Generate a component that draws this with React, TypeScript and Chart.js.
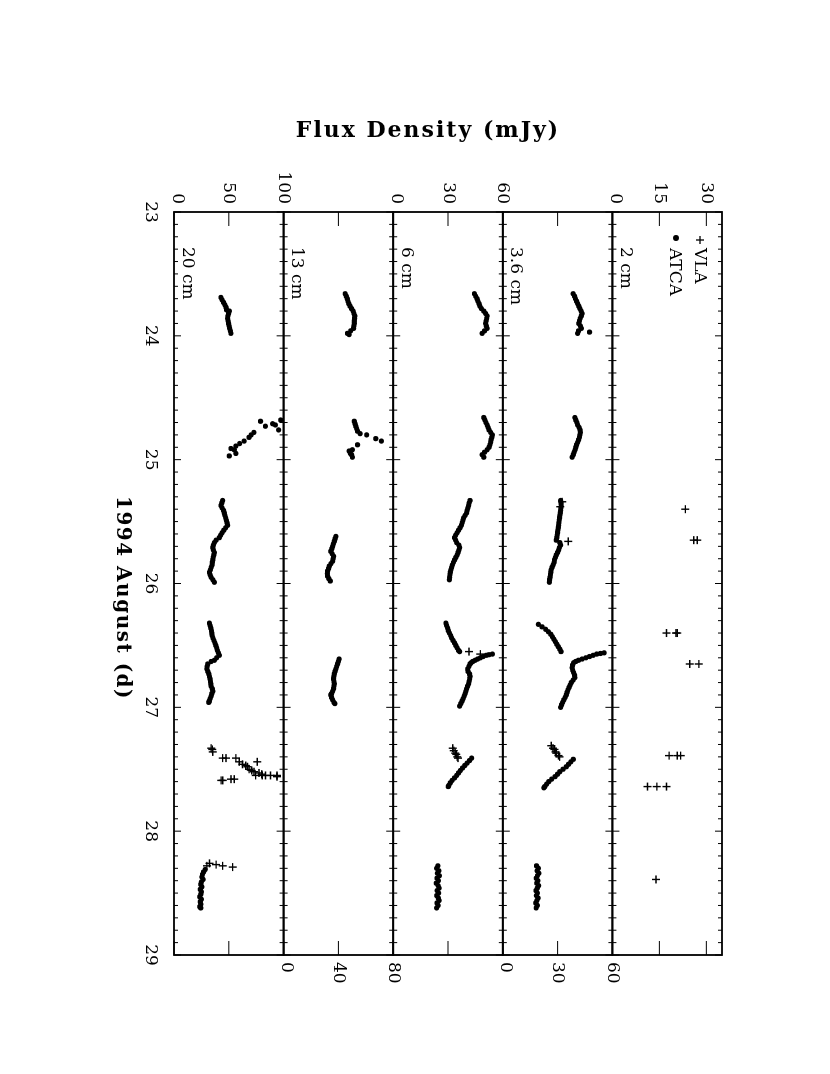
import React, { useEffect, useRef } from "react";
import { Chart, registerables } from "chart.js";

Chart.register(...registerables);

type P = [number, number];

// ---- axes / labels ----
const bandNames = ["2 cm", "3.6 cm", "6 cm", "13 cm", "20 cm"];
const bandMax = [35, 60, 60, 80, 100];
const bandTicks = [
  [0, 15, 30],
  [0, 30, 60],
  [0, 30, 60],
  [0, 40, 80],
  [0, 50, 100],
];
const bandLabelSide = ["left", "right", "left", "right", "left"];
const dayTicks = [23, 24, 25, 26, 27, 28, 29];
const dayMin = 23;
const dayMax = 29;
const yTitle = "Flux Density (mJy)";
const xTitle = "1994 August (d)";

// ---- data: [day, flux mJy] ----
const vla2: P[] = [
  [25.4, 23.3], [25.65, 26.0], [25.65, 27.1], [26.4, 17.3], [26.4, 20.3], [26.4, 20.7],
  [26.65, 24.7], [26.65, 27.6], [27.39, 18.1], [27.39, 20.7], [27.39, 21.8],
  [27.64, 11.2], [27.64, 14.2], [27.64, 17.3], [28.39, 13.9],
];

const atca36: P[] = [
  [23.66, 38.5], [23.68, 39.3], [23.7, 39.8], [23.72, 40.4], [23.74, 41.0], [23.76, 41.6], [23.78, 42.2],
  [23.8, 42.9], [23.82, 43.4], [23.84, 43.0], [23.86, 42.4], [23.88, 42.0], [23.9, 41.6], [23.92, 42.5],
  [23.94, 43.0], [23.96, 41.5], [23.98, 41.0], [23.97, 47.5],
  [24.66, 39.5], [24.68, 40.0], [24.7, 40.6], [24.72, 41.0], [24.74, 41.8], [24.76, 42.3], [24.78, 42.5],
  [24.8, 42.2], [24.82, 42.0], [24.84, 41.5], [24.86, 41.0], [24.88, 40.4], [24.9, 40.0], [24.92, 39.6],
  [24.94, 39.1], [24.96, 38.6], [24.98, 38.0],
  [25.33, 31.7], [25.35, 31.9], [25.37, 32.0], [25.39, 31.8], [25.41, 31.7], [25.43, 31.5], [25.45, 31.3],
  [25.47, 31.1], [25.49, 30.9], [25.51, 30.7], [25.53, 30.6], [25.55, 30.4], [25.57, 30.2], [25.59, 30.0],
  [25.61, 29.8], [25.63, 29.6], [25.65, 29.3], [25.67, 31.2], [25.69, 31.7], [25.71, 31.0], [25.73, 30.6],
  [25.75, 30.0], [25.77, 29.3], [25.79, 28.8], [25.81, 28.3], [25.83, 28.1], [25.85, 27.6], [25.87, 27.0],
  [25.89, 26.5], [25.91, 26.3], [25.93, 26.1], [25.95, 25.9], [25.97, 25.6], [25.99, 25.5],
  [26.33, 19.5], [26.35, 21.5], [26.37, 23.5], [26.39, 25.0], [26.41, 26.3], [26.43, 27.2], [26.45, 28.0],
  [26.47, 28.8], [26.49, 29.6], [26.51, 30.4], [26.53, 31.2], [26.55, 31.9],
  [26.56, 55.5], [26.565, 53.5], [26.57, 51.5], [26.58, 49.5], [26.59, 47.5], [26.6, 45.5], [26.61, 43.5],
  [26.62, 41.5], [26.63, 40.0], [26.64, 38.8], [26.66, 38.2], [26.68, 38.0], [26.7, 38.3], [26.72, 38.8],
  [26.74, 39.3], [26.76, 39.5], [26.78, 38.5], [26.8, 37.5], [26.82, 36.9], [26.84, 36.3], [26.86, 35.7],
  [26.88, 35.2], [26.9, 34.8], [26.92, 34.2], [26.94, 33.4], [26.96, 32.8], [26.98, 32.2], [27.0, 31.7],
  [27.42, 38.6], [27.44, 37.3], [27.46, 36.0], [27.48, 34.8], [27.5, 33.0], [27.52, 31.2], [27.54, 30.0],
  [27.56, 28.6], [27.58, 26.8], [27.6, 25.2], [27.62, 24.0], [27.64, 23.0], [27.65, 22.5],
  [28.28, 18.5], [28.3, 19.5], [28.32, 18.8], [28.34, 19.8], [28.36, 19.0], [28.38, 18.3], [28.4, 19.2],
  [28.42, 18.6], [28.44, 19.6], [28.46, 18.9], [28.48, 18.2], [28.5, 19.0], [28.52, 18.4], [28.54, 19.3],
  [28.56, 18.7], [28.58, 18.1], [28.6, 18.9], [28.62, 18.3],
];
const vla36: P[] = [
  [25.34, 32.5], [25.38, 31.5], [25.66, 35.8],
  [27.31, 26.5], [27.33, 27.5], [27.34, 28.3], [27.36, 28.8], [27.37, 29.3], [27.39, 30.5], [27.4, 31.1],
];

const atca6: P[] = [
  [23.66, 44.5], [23.68, 45.2], [23.7, 45.9], [23.72, 46.4], [23.74, 47.0], [23.76, 47.5], [23.78, 48.3],
  [23.8, 49.6], [23.82, 50.6], [23.84, 51.5], [23.86, 51.2], [23.88, 50.9], [23.9, 50.6], [23.92, 51.0],
  [23.94, 51.5], [23.96, 50.0], [23.98, 48.7],
  [24.66, 49.6], [24.68, 50.2], [24.7, 50.8], [24.72, 51.5], [24.74, 52.0], [24.76, 52.5], [24.78, 53.4],
  [24.8, 54.3], [24.82, 54.0], [24.84, 53.6], [24.86, 53.4], [24.88, 53.0], [24.9, 52.5], [24.92, 51.5],
  [24.94, 50.0], [24.96, 48.7], [24.98, 49.6],
  [25.33, 42.1], [25.35, 41.6], [25.37, 41.3], [25.39, 40.9], [25.41, 40.5], [25.43, 40.2], [25.45, 39.4],
  [25.47, 38.6], [25.49, 38.2], [25.51, 37.8], [25.53, 37.4], [25.55, 36.6], [25.57, 35.8], [25.59, 35.0],
  [25.61, 34.2], [25.63, 33.6], [25.65, 34.2], [25.67, 34.8], [25.69, 36.0], [25.71, 36.4], [25.73, 36.0],
  [25.75, 35.5], [25.77, 35.0], [25.79, 34.3], [25.81, 33.6], [25.83, 33.0], [25.85, 32.4], [25.87, 32.0],
  [25.89, 31.6], [25.91, 31.3], [25.93, 31.1], [25.95, 30.9], [25.97, 30.8],
  [26.32, 28.9], [26.34, 29.3], [26.36, 29.8], [26.38, 30.2], [26.4, 30.8], [26.42, 31.5], [26.44, 32.0],
  [26.46, 32.8], [26.48, 33.6], [26.5, 34.3], [26.52, 35.0], [26.54, 35.8], [26.55, 36.4],
  [26.57, 54.3], [26.575, 52.5], [26.58, 51.0], [26.59, 49.3], [26.6, 47.8], [26.61, 46.3], [26.62, 44.9],
  [26.63, 43.6], [26.64, 42.7], [26.65, 42.1], [26.67, 41.5], [26.69, 40.8], [26.71, 41.0], [26.73, 41.8],
  [26.75, 42.1], [26.77, 41.9], [26.79, 41.6], [26.81, 41.3], [26.83, 40.7], [26.85, 40.2], [26.87, 39.8],
  [26.89, 39.4], [26.91, 38.9], [26.93, 38.3], [26.95, 37.7], [26.97, 37.0], [26.99, 36.4],
  [27.41, 43.0], [27.43, 41.8], [27.45, 40.5], [27.47, 39.2], [27.49, 38.0], [27.51, 36.8], [27.53, 35.8],
  [27.55, 34.8], [27.57, 33.6], [27.59, 32.3], [27.61, 31.3], [27.63, 30.5], [27.64, 30.2],
  [28.28, 24.5], [28.3, 23.8], [28.32, 25.0], [28.34, 24.2], [28.36, 25.3], [28.38, 24.0], [28.4, 24.8],
  [28.42, 23.6], [28.44, 24.6], [28.46, 25.2], [28.48, 24.1], [28.5, 24.9], [28.52, 23.9], [28.54, 24.7],
  [28.56, 25.1], [28.58, 24.0], [28.6, 24.6], [28.62, 23.8],
];
const vla6: P[] = [
  [26.55, 41.5], [26.57, 47.7],
  [27.33, 32.6], [27.35, 33.2], [27.37, 34.0], [27.38, 34.5], [27.4, 35.0], [27.41, 35.5],
];

const atca13: P[] = [
  [23.66, 45.0], [23.68, 45.8], [23.7, 46.5], [23.72, 47.0], [23.74, 47.6], [23.76, 48.5], [23.78, 49.6],
  [23.8, 50.8], [23.82, 51.4], [23.84, 52.0], [23.86, 51.8], [23.88, 51.6], [23.9, 51.6], [23.92, 51.3],
  [23.94, 51.1], [23.96, 49.0], [23.98, 46.7], [23.99, 47.9],
  [24.69, 51.6], [24.71, 52.2], [24.73, 52.7], [24.75, 53.4], [24.77, 54.0], [24.79, 55.9], [24.8, 60.7],
  [24.83, 67.3], [24.85, 71.4], [24.88, 54.0], [24.92, 50.3], [24.93, 47.9], [24.95, 48.8], [24.96, 49.6],
  [24.98, 50.3],
  [25.62, 38.2], [25.64, 37.6], [25.66, 37.0], [25.68, 36.4], [25.7, 35.8], [25.72, 35.2], [25.74, 34.5],
  [25.76, 35.5], [25.78, 36.5], [25.8, 36.2], [25.82, 35.8], [25.84, 34.6], [25.86, 33.4], [25.88, 32.8],
  [25.9, 32.1], [25.92, 32.0], [25.94, 32.1], [25.96, 33.0], [25.98, 34.1],
  [26.61, 40.6], [26.63, 40.0], [26.65, 39.4], [26.67, 38.8], [26.69, 38.2], [26.71, 37.6], [26.73, 37.0],
  [26.75, 36.7], [26.77, 36.5], [26.79, 36.8], [26.81, 37.0], [26.83, 36.8], [26.85, 36.5], [26.87, 35.8],
  [26.89, 35.0], [26.9, 34.5], [26.92, 35.0], [26.94, 35.8], [26.96, 36.8], [26.97, 37.5],
];

const atca20: P[] = [
  [23.69, 42.9], [23.71, 44.0], [23.73, 45.2], [23.75, 46.5], [23.77, 47.5], [23.79, 48.0], [23.8, 50.5],
  [23.82, 49.8], [23.84, 49.2], [23.86, 49.0], [23.88, 49.4], [23.9, 49.8], [23.92, 50.3], [23.94, 50.8],
  [23.96, 51.5], [23.98, 52.0],
  [24.68, 97.5], [24.69, 79.0], [24.71, 90.0], [24.72, 92.5], [24.73, 83.5], [24.76, 95.5], [24.78, 73.0],
  [24.8, 70.5], [24.82, 68.5], [24.85, 64.0], [24.87, 60.0], [24.89, 56.5], [24.91, 52.0], [24.92, 55.0],
  [24.95, 56.5], [24.97, 50.5],
  [25.33, 44.4], [25.35, 43.6], [25.37, 42.9], [25.39, 44.0], [25.41, 45.2], [25.43, 45.9], [25.45, 46.5],
  [25.47, 47.2], [25.49, 47.8], [25.51, 48.4], [25.53, 48.9], [25.55, 47.2], [25.57, 45.5], [25.59, 44.0],
  [25.61, 42.6], [25.63, 41.4], [25.65, 38.5], [25.67, 36.9], [25.69, 36.0], [25.71, 35.4], [25.73, 36.0],
  [25.75, 36.9], [25.77, 36.3], [25.79, 35.8], [25.81, 35.4], [25.83, 35.0], [25.85, 34.8], [25.87, 34.0],
  [25.89, 33.2], [25.91, 32.4], [25.93, 33.0], [25.95, 33.9], [25.97, 35.5], [25.99, 36.9],
  [26.32, 32.4], [26.34, 33.0], [26.36, 33.6], [26.38, 34.2], [26.4, 34.5], [26.42, 34.8], [26.44, 35.6],
  [26.46, 36.5], [26.48, 37.4], [26.5, 38.2], [26.52, 39.0], [26.54, 39.6], [26.56, 40.5], [26.58, 41.4],
  [26.6, 39.0], [26.62, 36.9], [26.63, 34.0], [26.65, 30.9], [26.67, 30.3], [26.69, 30.0], [26.71, 30.9],
  [26.73, 31.8], [26.75, 32.4], [26.77, 32.9], [26.79, 33.3], [26.81, 33.6], [26.83, 33.9], [26.85, 35.0],
  [26.87, 35.4], [26.89, 34.5], [26.91, 33.9], [26.93, 33.0], [26.95, 32.2], [26.96, 31.8],
  [28.31, 28.5], [28.33, 27.0], [28.35, 26.0], [28.37, 25.5], [28.39, 26.5], [28.41, 25.0], [28.43, 24.5],
  [28.45, 25.5], [28.47, 24.0], [28.49, 25.0], [28.51, 24.5], [28.53, 23.5], [28.55, 25.0], [28.57, 24.0],
  [28.59, 24.5], [28.61, 23.5], [28.62, 24.5],
];
const vla20: P[] = [
  [27.33, 33.9], [27.34, 35.0], [27.36, 35.4], [27.41, 44.4], [27.41, 47.4], [27.41, 56.5], [27.44, 59.5],
  [27.44, 76.0], [27.46, 62.5], [27.47, 65.5], [27.48, 67.0], [27.5, 68.5], [27.51, 71.0], [27.52, 73.0],
  [27.53, 77.5], [27.54, 80.0], [27.55, 74.5], [27.55, 80.5], [27.55, 83.5], [27.55, 88.0], [27.55, 94.0],
  [27.56, 94.0], [27.58, 52.0], [27.58, 55.0], [27.59, 43.0], [27.59, 44.5],
  [28.26, 32.4], [28.27, 38.4], [28.28, 44.4], [28.29, 53.5], [28.28, 30.0],
];

const atcaByBand: P[][] = [[], atca36, atca6, atca13, atca20];
const vlaByBand: P[][] = [vla2, vla36, vla6, [], vla20];

// ---- geometry (unrotated canvas, then turned 90deg clockwise) ----
const CW = 1074;
const CH = 830;
const SERIF = '"DejaVu Serif", "Liberation Serif", serif';

function line(ctx: CanvasRenderingContext2D, x1: number, y1: number, x2: number, y2: number) {
  ctx.beginPath();
  ctx.moveTo(x1, y1);
  ctx.lineTo(x2, y2);
  ctx.stroke();
}

const framePlugin = {
  id: "pgframes",
  afterDatasetsDraw(chart: any) {
    const ctx: CanvasRenderingContext2D = chart.ctx;
    const xs = chart.scales.x;
    const left = xs.getPixelForValue(dayMin);
    const right = xs.getPixelForValue(dayMax);
    ctx.save();
    ctx.strokeStyle = "#000";
    for (let i = 0; i < 5; i++) {
      const ys = chart.scales["y" + i];
      const top = ys.getPixelForValue(bandMax[i]);
      const bot = ys.getPixelForValue(0);
      ctx.lineWidth = 1;
      for (let k = 0; k <= (dayMax - dayMin) * 10; k++) {
        const v = dayMin + k / 10;
        const px = xs.getPixelForValue(v);
        const len = k % 10 === 0 ? 7 : 4;
        line(ctx, px, top, px, top + len);
        line(ctx, px, bot, px, bot - len);
      }
      for (const v of bandTicks[i]) {
        const py = ys.getPixelForValue(v);
        line(ctx, left, py, left + 14, py);
        line(ctx, right, py, right - 14, py);
      }
      ctx.lineWidth = 1.8;
      ctx.strokeRect(left, top, right - left, bot - top);

      // flux tick labels
      ctx.fillStyle = "#000";
      ctx.font = `17px ${SERIF}`;
      ctx.textBaseline = "middle";
      for (const v of bandTicks[i]) {
        const py = ys.getPixelForValue(v) - (v === 0 ? 3 : 0);
        if (bandLabelSide[i] === "left") {
          ctx.textAlign = "right";
          ctx.fillText(String(v), left - 8, py);
        } else {
          ctx.textAlign = "left";
          ctx.fillText(String(v), right + 7, py);
        }
      }
      // panel label
      ctx.textAlign = "left";
      ctx.textBaseline = "middle";
      ctx.fillText(bandNames[i], left + 35, bot - 13);
    }

    // day labels
    const bottomY = chart.scales.y4.getPixelForValue(0);
    ctx.font = `17px ${SERIF}`;
    ctx.textAlign = "center";
    ctx.textBaseline = "middle";
    for (const d of dayTicks) {
      ctx.fillText(String(d), xs.getPixelForValue(d), bottomY + 24);
    }

    // legend
    const topY = chart.scales.y0.getPixelForValue(bandMax[0]);
    ctx.lineWidth = 1.3;
    const lx = left + 28;
    line(ctx, lx - 4, topY + 22, lx + 4, topY + 22);
    line(ctx, lx, topY + 18, lx, topY + 26);
    ctx.beginPath();
    ctx.arc(lx - 2, topY + 46, 3, 0, Math.PI * 2);
    ctx.fill();
    ctx.textAlign = "left";
    ctx.textBaseline = "middle";
    ctx.font = `17px ${SERIF}`;
    ctx.fillText("VLA", lx + 8, topY + 23);
    ctx.fillText("ATCA", lx + 8, topY + 48);

    // axis titles
    ctx.font = `bold 22px ${SERIF}`;
    (ctx as any).letterSpacing = "2px";
    ctx.textAlign = "center";
    ctx.textBaseline = "middle";
    ctx.save();
    ctx.translate(131, 402);
    ctx.rotate(-Math.PI / 2);
    ctx.fillText(yTitle, 0, 0);
    ctx.restore();
    ctx.font = `bold 20px ${SERIF}`;
    (ctx as any).letterSpacing = "1.5px";
    ctx.fillText(xTitle, 598, 708);
    (ctx as any).letterSpacing = "0px";
    ctx.restore();
  },
};

export default function App() {
  const ref = useRef<HTMLCanvasElement | null>(null);

  useEffect(() => {
    if (!ref.current) return;
    const datasets: any[] = [];
    for (let i = 0; i < 5; i++) {
      if (atcaByBand[i].length) {
        datasets.push({
          label: bandNames[i] + " ATCA",
          data: atcaByBand[i].map(([x, y]) => ({ x, y })),
          xAxisID: "x",
          yAxisID: "y" + i,
          pointStyle: "circle",
          pointRadius: 2.6,
          backgroundColor: "#000",
          borderColor: "#000",
          borderWidth: 0,
          showLine: false,
        });
      }
      if (vlaByBand[i].length) {
        datasets.push({
          label: bandNames[i] + " VLA",
          data: vlaByBand[i].map(([x, y]) => ({ x, y })),
          xAxisID: "x",
          yAxisID: "y" + i,
          pointStyle: "cross",
          pointRadius: 4,
          backgroundColor: "#000",
          borderColor: "#000",
          borderWidth: 1.4,
          showLine: false,
        });
      }
    }
    const scales: any = {
      x: { type: "linear", min: dayMin, max: dayMax, display: false },
    };
    for (let i = 0; i < 5; i++) {
      scales["y" + i] = {
        type: "linear",
        display: false,
        min: -(4 - i) * bandMax[i],
        max: (i + 1) * bandMax[i],
      };
    }
    const chart = new Chart(ref.current, {
      type: "scatter",
      data: { datasets },
      options: {
        responsive: false,
        maintainAspectRatio: false,
        devicePixelRatio: 1,
        animation: false,
        layout: { padding: { left: 212, right: CW - 955, top: 108, bottom: CH - 656 } },
        plugins: { legend: { display: false }, tooltip: { enabled: false } },
        scales,
      },
      plugins: [framePlugin],
    } as any);
    return () => chart.destroy();
  }, []);

  return (
    <div
      style={{
        position: "fixed",
        left: 0,
        top: 0,
        width: 830,
        height: 1074,
        overflow: "hidden",
        background: "#fff",
      }}
    >
      <div
        style={{
          position: "absolute",
          left: 0,
          top: 0,
          width: CW,
          height: CH,
          transformOrigin: "0 0",
          transform: "translate(830px, 0px) rotate(90deg)",
        }}
      >
        <canvas ref={ref} width={CW} height={CH} style={{ width: CW, height: CH, display: "block" }} />
      </div>
    </div>
  );
}
